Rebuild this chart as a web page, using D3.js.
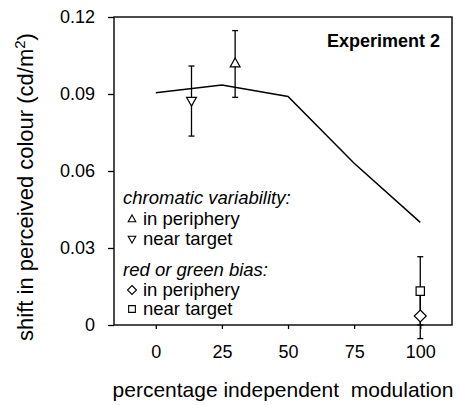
<!DOCTYPE html>
<html>
<head>
<meta charset="utf-8">
<script src="https://cdn.jsdelivr.net/npm/d3@7"></script>
<style>
  body { margin: 0; background: #fff; }
  svg { font-family: "Liberation Sans", Arial, Helvetica, sans-serif; }
</style>
</head>
<body>
<div id="chart"></div>
<script>
// model curve
const lineX = [0, 25, 50, 75, 100];
const lineY = [0.0905, 0.0935, 0.089, 0.063, 0.040];

// measured points: chromatic variability / red or green bias
const pointX = [30, 13.5, 100, 100];
const pointY = [0.102, 0.0873, 0.0132, 0.0035];
const pointLo = [0.0887, 0.0736, 0.0, -0.0053];
const pointHi = [0.1147, 0.1009, 0.0266, 0.0123];
const pointShape = ["up", "down", "square", "diamond"];

const xTicks = [0, 25, 50, 75, 100];
const yTicks = [0, 0.03, 0.06, 0.09, 0.12];
const yTickLabels = ["0", "0.03", "0.06", "0.09", "0.12"];

const legendHeads = ["chromatic variability:", "red or green bias:"];
const legendItems = [
  { shape: "up", label: "in periphery" },
  { shape: "down", label: "near target" },
  { shape: "diamond", label: "in periphery" },
  { shape: "square", label: "near target" }
];

const width = 460, height = 405;
const plotL = 114, plotR = 452, plotT = 17, plotB = 325;

const svg = d3.select("#chart").append("svg").attr("width", width).attr("height", height);

const x = d3.scaleLinear().domain([-15.8, 112]).range([plotL, plotR]);
const y = d3.scaleLinear().domain([0, 0.12]).range([plotB, plotT]);

// frame
svg.append("rect")
  .attr("x", plotL).attr("y", plotT)
  .attr("width", plotR - plotL).attr("height", plotB - plotT)
  .attr("fill", "none").attr("stroke", "#000").attr("stroke-width", 1.4);

// axes
const yAxis = svg.append("g").attr("transform", `translate(${plotL},0)`)
  .call(d3.axisLeft(y).tickValues(yTicks).tickSize(6).tickPadding(13)
    .tickFormat((d, i) => yTickLabels[i]));
const xAxis = svg.append("g").attr("transform", `translate(0,${plotB})`)
  .call(d3.axisBottom(x).tickValues(xTicks).tickSize(4).tickPadding(16));
[xAxis, yAxis].forEach(g => {
  g.select(".domain").remove();
  g.selectAll("line").attr("stroke", "#000").attr("stroke-width", 1.3);
  g.selectAll("text").attr("fill", "#000").attr("font-size", "18px")
    .attr("font-family", '"Liberation Sans", Arial, sans-serif');
});

// model line
const line = d3.line().x((d, i) => x(lineX[i])).y(d => y(d));
svg.append("path").datum(lineY)
  .attr("d", line).attr("fill", "none")
  .attr("stroke", "#000").attr("stroke-width", 1.5);

function shapePath(shape, s) {
  if (shape === "up") return `M0,${-s}L${s * 0.95},${s * 0.7}L${-s * 0.95},${s * 0.7}Z`;
  if (shape === "down") return `M0,${s}L${s * 0.95},${-s * 0.7}L${-s * 0.95},${-s * 0.7}Z`;
  if (shape === "square") return `M${-s * 0.8},${-s * 0.8}h${s * 1.6}v${s * 1.6}h${-s * 1.6}Z`;
  return `M0,${-s}L${s},0L0,${s}L${-s},0Z`;
}

// error bars
const cap = 3;
pointX.forEach((px, i) => {
  const cx = x(px);
  const g = svg.append("g").attr("stroke", "#000").attr("stroke-width", 1.3);
  g.append("line").attr("x1", cx).attr("x2", cx).attr("y1", y(pointLo[i])).attr("y2", y(pointHi[i]));
  g.append("line").attr("x1", cx - cap).attr("x2", cx + cap).attr("y1", y(pointLo[i])).attr("y2", y(pointLo[i]));
  g.append("line").attr("x1", cx - cap).attr("x2", cx + cap).attr("y1", y(pointHi[i])).attr("y2", y(pointHi[i]));
});
pointX.forEach((px, i) => {
  const sz = pointShape[i] === "diamond" ? 6 : 5.2;
  svg.append("path")
    .attr("d", shapePath(pointShape[i], sz))
    .attr("transform", `translate(${x(px)},${y(pointY[i])})`)
    .attr("fill", "#fff").attr("stroke", "#000").attr("stroke-width", 1.2);
});

// title inside the frame
svg.append("text").attr("x", 440).attr("y", 47)
  .attr("text-anchor", "end").attr("font-size", "18px").attr("font-weight", "bold")
  .text("Experiment 2");

// legend
const headY = [204, 276];
const itemY = [225, 245, 296, 315];
legendHeads.forEach((h, i) => {
  svg.append("text").attr("x", 123).attr("y", headY[i])
    .attr("font-size", "18.5px").attr("font-style", "italic").text(h);
});
legendItems.forEach((d, i) => {
  const sz = d.shape === "diamond" ? 4.5 : d.shape === "square" ? 4.2 : 4;
  svg.append("path")
    .attr("d", shapePath(d.shape, sz))
    .attr("transform", `translate(132,${itemY[i] - 6})`)
    .attr("fill", "#fff").attr("stroke", "#000").attr("stroke-width", 1.1);
  svg.append("text").attr("x", 143).attr("y", itemY[i])
    .attr("font-size", "18.5px").text(d.label);
});

// axis titles
svg.append("text").attr("x", (plotL + plotR) / 2).attr("y", 397)
  .attr("text-anchor", "middle").attr("font-size", "21px")
  .style("white-space", "pre")
  .text("percentage independent  modulation");

const yl = svg.append("text")
  .attr("transform", `translate(33,${(plotT + plotB) / 2 + 16}) rotate(-90)`)
  .attr("text-anchor", "middle").attr("font-size", "22px");
yl.append("tspan").text("shift in perceived colour (cd/m");
yl.append("tspan").attr("font-size", "15px").attr("dy", -8).text("2");
yl.append("tspan").attr("dy", 8).text(")");
</script>
</body>
</html>
